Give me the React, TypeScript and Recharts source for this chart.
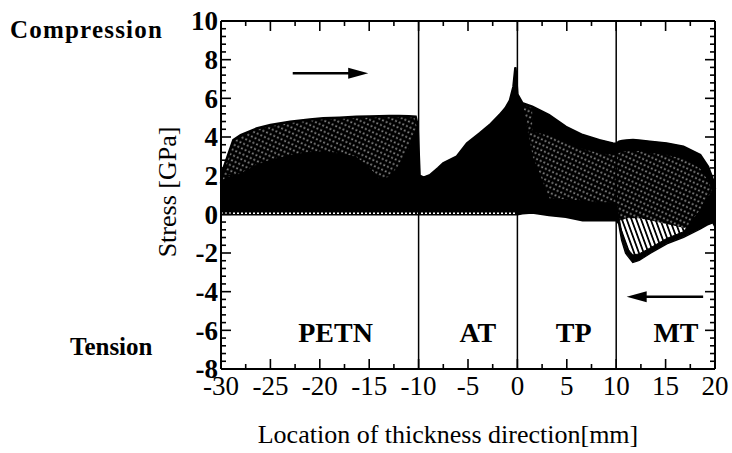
import {
  Area,
  ComposedChart,
  ReferenceLine,
  Scatter,
  XAxis,
  YAxis,
} from "recharts";

// Sampled locations along the thickness direction [mm]
const xs = [
  -30, -29.8, -28.75, -28, -26.4, -25, -23, -21, -19.65, -18, -16.3, -15, -14, -13, -12, -11, -10.3,
  -10.1, -9.9, -9.5, -8.85, -8, -7.5, -6.15, -5.1, -3.8, -2.8, -1.8, -1.2, -0.75, -0.4, -0.2, 0,
  0.5, 1.5, 3.2, 4.9, 6.6, 8.3, 9.65, 10, 10.3, 10.6, 11, 11.7, 12.3, 13.4, 15.1, 16.8, 18.5, 19.3, 19.8, 20,
];

// Upper envelope of all stress profiles [GPa]
const envTop = [
  1.6, 2.3, 3.84, 4.1, 4.44, 4.62, 4.79, 4.9, 4.97, 5.0, 5.05, 5.06, 5.07, 5.08, 5.08, 5.07, 5.05,
  4.6, 2.0, 1.9, 2.03, 2.4, 2.64, 2.98, 3.67, 4.19, 4.62, 5.14, 5.5, 5.9, 6.6, 7.6, 6.2,
  5.75, 5.57, 5.14, 4.53, 4.1, 3.84, 3.67, 3.65, 3.76, 3.8, 3.82, 3.84, 3.82, 3.76, 3.67, 3.5, 3.07, 2.46, 1.77, 1.3,
];

// Lower envelope (tension side)
const envLow = [
  0, 0, 0, 0, 0, 0, 0, 0, 0, 0, 0, 0, 0, 0, 0, 0, 0,
  0, 0, 0, 0, 0, 0, 0, 0, 0, 0, 0, 0, 0, 0, 0, 0,
  0.05, 0.1, -0.04, -0.12, -0.3, -0.3, -0.3, -0.3, -0.47, -1.33, -2.0, -2.45, -2.36, -2.0, -1.5, -1.16, -0.73, -0.5, -0.4, -0.6,
];

// Top of the fully overlapped (solid black) mass
const coreHigh = [
  1.5, 1.77, 2.0, 2.1, 2.55, 2.8, 3.05, 3.2, 3.24, 3.15, 2.95, 2.4, 1.85, 1.9, 2.5, 3.4, 4.3,
  4.5, 2.0, 1.9, 2.03, 2.4, 2.64, 2.98, 3.67, 4.19, 4.62, 5.14, 5.5, 5.9, 6.6, 7.6, 6.2,
  5.75, 3.0, 0.8, 0.75, 0.7, 0.6, 0.6, 0.6, -0.2, -1.0, -1.7, -2.1, -2.05, -1.75, -1.25, -0.9, 0.2, 0.9, 1.2, 1.0,
];

// Lower edge of the solid upper band in TP / MT
const bandLow = [
  null, null, null, null, null, null, null, null, null, null, null, null, null, null, null, null, null,
  null, null, null, null, null, null, null, null, null, null, null, null, null, null, null, null,
  null, 4.3, 4.1, 3.7, 3.4, 3.2, 3.1, 3.1, 3.2, 3.3, 3.3, 3.3, 3.3, 3.2, 3.1, 2.9, 2.4, 1.8, 1.2, 0.8,
];

// Top of the striped tension lobe in MT
const triHigh = [
  null, null, null, null, null, null, null, null, null, null, null, null, null, null, null, null, null,
  null, null, null, null, null, null, null, null, null, null, null, null, null, null, null, null,
  null, null, null, null, null, null, null, -0.3, -0.3, -0.3, -0.2, -0.2, -0.2, -0.3, -0.5, -0.7, -0.73, null, null, null,
];

const matNames = ["PETN", "AT", "TP", "MT"];
const matX = [-18.4, -4.0, 5.7, 16.05];
const matY = [-6.6, -6.6, -6.6, -6.6];

const interfaces = [-10, 0, 10];

const arrowFromX = [-22.74, 18.8];
const arrowToX = [-15.1, 11.06];
const arrowY = [7.3, -4.26];

const xMajor = [-30, -25, -20, -15, -10, -5, 0, 5, 10, 15, 20];
const yMajor = [-8, -6, -4, -2, 0, 2, 4, 6, 8, 10];
const xTicks = xMajor.flatMap((v) => [v, v + 2.5]).filter((v) => v <= 20);
const yTicks = yMajor
  .flatMap((v) => [0, 0.4, 0.8, 1.2, 1.6].map((d) => Math.round((v + d) * 10) / 10))
  .filter((v) => v <= 10);

const data = xs.map((x, i) => ({
  x,
  outer: [envLow[i], envTop[i]],
  core: [envLow[i], coreHigh[i]],
  band: bandLow[i] == null ? null : [bandLow[i], envTop[i]],
  tri: triHigh[i] == null ? null : [envLow[i], triHigh[i]],
}));

const labels = matNames.map((name, i) => ({ x: matX[i], y: matY[i], name }));

const SERIF = '"Liberation Serif", "Times New Roman", serif';

function BottomTick({ x, y, payload }: any) {
  const major = xMajor.includes(payload.value);
  return (
    <g>
      <line x1={x} x2={x} y1={y} y2={y - (major ? 10 : 5)} stroke="#000" strokeWidth={1.6} />
      {major && (
        <text x={x} y={y + 26} textAnchor="middle" fontFamily={SERIF} fontSize={27} fill="#000">
          {payload.value}
        </text>
      )}
    </g>
  );
}

function TopTick({ x, y, payload }: any) {
  const major = xMajor.includes(payload.value);
  return <line x1={x} x2={x} y1={y} y2={y + (major ? 10 : 5)} stroke="#000" strokeWidth={1.6} />;
}

function LeftTick({ x, y, payload }: any) {
  const major = yMajor.includes(payload.value);
  return (
    <g>
      <line x1={x} x2={x + (major ? 10 : 5)} y1={y} y2={y} stroke="#000" strokeWidth={1.6} />
      {major && (
        <text
          x={x - 3}
          y={y}
          dy="0.35em"
          textAnchor="end"
          fontFamily={SERIF}
          fontWeight="bold"
          fontSize={27}
          fill="#000"
        >
          {payload.value}
        </text>
      )}
    </g>
  );
}

function RightTick({ x, y, payload }: any) {
  const major = yMajor.includes(payload.value);
  return <line x1={x} x2={x - (major ? 10 : 5)} y1={y} y2={y} stroke="#000" strokeWidth={1.6} />;
}

function Arrow({ x1, y1, x2, y2 }: any) {
  const dir = Math.sign(x2 - x1);
  return (
    <g>
      <line x1={x1} y1={y1} x2={x2 - dir * 14} y2={y2} stroke="#000" strokeWidth={2.6} />
      <polygon points={`${x2},${y2} ${x2 - dir * 20},${y2 - 5.5} ${x2 - dir * 20},${y2 + 5.5}`} fill="#000" />
    </g>
  );
}

function MatLabel({ cx, cy, payload }: any) {
  return (
    <text x={cx} y={cy} textAnchor="middle" fontFamily={SERIF} fontWeight="bold" fontSize={28} fill="#000">
      {payload.name}
    </text>
  );
}

export default function App() {
  return (
    <div style={{ position: "absolute", left: 0, top: 0, width: 732, height: 453, background: "#fff" }}>
      <ComposedChart width={732} height={453} data={data} margin={{ top: 11, right: 7, bottom: 44, left: 161 }}>
        <defs>
          <pattern id="dots" width="4" height="5" patternUnits="userSpaceOnUse" patternTransform="rotate(25)">
            <rect width="4" height="5" fill="#000" />
            <rect x="1.5" y="1.5" width="1" height="1.7" fill="#fff" />
          </pattern>
          <pattern id="stripes" width="4.5" height="6" patternUnits="userSpaceOnUse" patternTransform="rotate(-20)">
            <rect width="4.5" height="6" fill="#fff" />
            <rect x="0" y="0" width="1.8" height="6" fill="#000" />
          </pattern>
        </defs>
        <XAxis
          xAxisId="b"
          dataKey="x"
          type="number"
          domain={[-30, 20]}
          ticks={xTicks}
          interval={0}
          height={40}
          tickSize={0}
          tickMargin={0}
          tickLine={false}
          axisLine={{ stroke: "#000", strokeWidth: 2 }}
          tick={BottomTick}
        />
        <XAxis
          xAxisId="t"
          orientation="top"
          dataKey="x"
          type="number"
          domain={[-30, 20]}
          ticks={xTicks}
          interval={0}
          height={10}
          tickSize={0}
          tickMargin={0}
          tickLine={false}
          axisLine={{ stroke: "#000", strokeWidth: 2 }}
          tick={TopTick}
        />
        <YAxis
          yAxisId="l"
          type="number"
          domain={[-8, 10]}
          ticks={yTicks}
          interval={0}
          width={60}
          tickSize={0}
          tickMargin={0}
          tickLine={false}
          allowDataOverflow
          axisLine={{ stroke: "#000", strokeWidth: 2 }}
          tick={LeftTick}
        />
        <YAxis
          yAxisId="r"
          orientation="right"
          type="number"
          domain={[-8, 10]}
          ticks={yTicks}
          interval={0}
          width={10}
          tickSize={0}
          tickMargin={0}
          tickLine={false}
          allowDataOverflow
          axisLine={{ stroke: "#000", strokeWidth: 2 }}
          tick={RightTick}
        />
        <Area
          xAxisId="b"
          yAxisId="l"
          type="linear"
          dataKey="outer"
          stroke="#000"
          strokeWidth={2.5}
          fill="url(#dots)"
          fillOpacity={1}
          isAnimationActive={false}
        />
        <Area
          xAxisId="b"
          yAxisId="l"
          type="linear"
          dataKey="tri"
          stroke="none"
          fill="url(#stripes)"
          fillOpacity={1}
          isAnimationActive={false}
        />
        <Area
          xAxisId="b"
          yAxisId="l"
          type="linear"
          dataKey="core"
          stroke="#000"
          strokeWidth={1}
          fill="#000"
          fillOpacity={1}
          isAnimationActive={false}
        />
        <Area
          xAxisId="b"
          yAxisId="l"
          type="linear"
          dataKey="band"
          stroke="#000"
          strokeWidth={1}
          fill="#000"
          fillOpacity={1}
          isAnimationActive={false}
        />
        <ReferenceLine
          xAxisId="b"
          yAxisId="l"
          segment={[{ x: -30, y: 0.05 }, { x: 0, y: 0.05 }]}
          stroke="#fff"
          strokeWidth={1.5}
          strokeDasharray="2 2"
        />
        {interfaces.map((x) => (
          <ReferenceLine key={x} xAxisId="b" yAxisId="l" x={x} stroke="#000" strokeWidth={1.5} />
        ))}
        {arrowY.map((y, i) => (
          <ReferenceLine
            key={`a${i}`}
            xAxisId="b"
            yAxisId="l"
            segment={[{ x: arrowFromX[i], y }, { x: arrowToX[i], y }]}
            shape={Arrow}
          />
        ))}
        <Scatter
          xAxisId="b"
          yAxisId="l"
          data={labels}
          dataKey="y"
          shape={MatLabel}
          isAnimationActive={false}
        />
      </ComposedChart>
      <svg width={732} height={453} style={{ position: "absolute", left: 0, top: 0, pointerEvents: "none" }}>
        <text x={10} y={38} fontFamily={SERIF} fontWeight="bold" fontSize={25} letterSpacing={1.2} fill="#000">
          Compression
        </text>
        <text x={70} y={355} fontFamily={SERIF} fontWeight="bold" fontSize={25} fill="#000">
          Tension
        </text>
        <text
          x={0}
          y={0}
          transform="translate(176,192) rotate(-90)"
          textAnchor="middle"
          fontFamily={SERIF}
          fontSize={26}
          fill="#000"
        >
          Stress [GPa]
        </text>
        <text x={448} y={443} textAnchor="middle" fontFamily={SERIF} fontSize={26} fill="#000">
          Location of thickness direction[mm]
        </text>
      </svg>
    </div>
  );
}
